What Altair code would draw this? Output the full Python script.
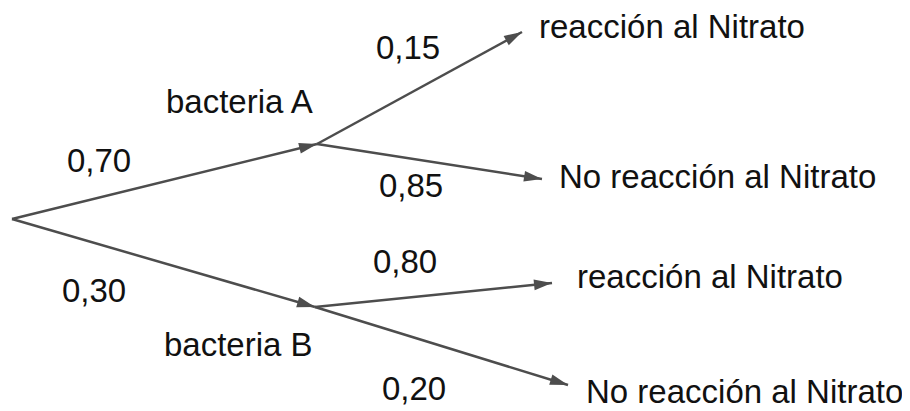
import altair as alt
import pandas as pd

# Tree nodes (layout coordinates, y grows downward)
node_id = ["root", "A", "B", "A_r", "A_nr", "B_r", "B_nr"]
node_x = [12, 317, 315, 522, 542, 552, 568]
node_y = [219, 144, 307, 32, 179, 283, 385]

# Edges
edge_from = ["root", "root", "A", "A", "B", "B"]
edge_to = ["A", "B", "A_r", "A_nr", "B_r", "B_nr"]

# Labels
label_text = ["bacteria A", "bacteria B", "0,70", "0,30", "0,15", "0,85", "0,80", "0,20",
              "reacción al Nitrato", "No reacción al Nitrato",
              "reacción al Nitrato", "No reacción al Nitrato"]
label_x = [166, 164, 67, 62, 376, 379, 373, 382, 539, 559, 577, 586]
label_y = [113, 356, 172, 302, 59, 197, 273, 400, 38, 188, 288, 403]

pos = {n: (x, y) for n, x, y in zip(node_id, node_x, node_y)}
edges = pd.DataFrame({
    "x": [pos[a][0] for a in edge_from],
    "y": [pos[a][1] for a in edge_from],
    "x2": [pos[b][0] for b in edge_to],
    "y2": [pos[b][1] for b in edge_to],
})
labels = pd.DataFrame({"text": label_text, "x": label_x, "y": label_y})

xs = alt.Scale(domain=[8, 902], nice=False, zero=False)
ys = alt.Scale(domain=[8, 411], nice=False, zero=False, reverse=True)
LINE = "#4d4d4d"

base_e = alt.Chart(edges)
lines = base_e.mark_rule(color=LINE, strokeWidth=2.5).encode(
    x=alt.X("x:Q", scale=xs, axis=None),
    y=alt.Y("y:Q", scale=ys, axis=None),
    x2="x2:Q", y2="y2:Q",
)
heads = base_e.transform_calculate(
    ang="(atan2(datum.y2 - datum.y, datum.x2 - datum.x) * 180 / PI + 360) % 360"
).mark_point(
    shape="M0,0L-1,-0.3L-1,0.3Z", filled=True, color=LINE, opacity=1, size=1296
).encode(
    x=alt.X("x2:Q", scale=xs, axis=None),
    y=alt.Y("y2:Q", scale=ys, axis=None),
    angle=alt.Angle("ang:Q", scale=None),
)
texts = alt.Chart(labels).mark_text(
    align="left", baseline="alphabetic", fontSize=33, font="Liberation Sans", color="#111111"
).encode(
    x=alt.X("x:Q", scale=xs, axis=None),
    y=alt.Y("y:Q", scale=ys, axis=None),
    text="text:N",
)

chart = alt.layer(lines, heads, texts).properties(
    width=894, height=403, padding=0, autosize="none"
).configure_view(stroke=None)

chart.save("out.html", embed_options={"renderer": "svg", "actions": False})
